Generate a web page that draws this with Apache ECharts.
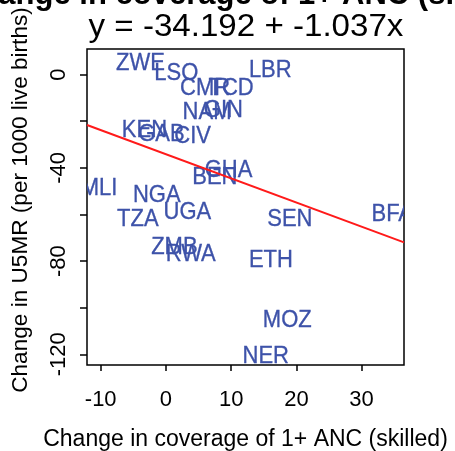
<!DOCTYPE html>
<html>
<head>
<meta charset="utf-8">
<script src="https://cdn.jsdelivr.net/npm/echarts@6/dist/echarts.min.js"></script>
<style>
    html, body { margin: 0; padding: 0; background: #fff; }
    #chart { width: 455px; height: 451px; }
</style>
</head>
<body>
<div id="chart"></div>
<script>
// country codes drawn as the scatter marks
const countries = ['ZWE', 'LSO', 'LBR', 'CMR', 'TCD', 'NAM', 'GIN', 'KEN', 'GAB', 'CIV',
                   'GHA', 'BEN', 'MLI', 'NGA', 'TZA', 'UGA', 'SEN', 'BFA', 'ZMB', 'RWA',
                   'ETH', 'MOZ', 'NER'];
// change in coverage of 1+ ANC (skilled)
const ancChange = [-3.9, 1.6, 16.0, 6.0, 10.0, 6.3, 8.8, -3.3, -0.7, 4.1,
                   9.6, 7.5, -10.25, -1.4, -4.3, 3.3, 19.0, 34.7, 1.3, 3.8,
                   16.1, 18.6, 15.3];
// change in U5MR (per 1000 live births)
const u5mrChange = [6.1, 1.8, 3.1, -4.6, -4.4, -14.7, -14.0, -22.7, -24.5, -25.1,
                    -39.9, -42.8, -47.5, -50.6, -60.7, -57.9, -60.7, -58.6, -72.7, -75.7,
                    -78.4, -104.0, -119.8];

const xTicks = [-10, 0, 10, 20, 30];
const yTicks = [0, -20, -40, -60, -80, -100, -120];
const yTickLabels = [0, -40, -80, -120];

// fitted line, read at the left and right edge of the plot box
const fitX = [-12.1, 36.5];
const fitY = [-21.6, -72.0];

const titleText = 'Change in coverage of 1+ ANC (skilled)';
const equationText = 'y = -34.192 + -1.037x';
const xName = 'Change in coverage of 1+ ANC (skilled)';
const yName = 'Change in U5MR (per 1000 live births)';

const FONT = '"Liberation Sans", Arial, Helvetica, sans-serif';
const LABEL_BLUE = '#3D52A9';

const chart = echarts.init(document.getElementById('chart'));

const labelData = countries.map((c, i) => [ancChange[i], u5mrChange[i]]);
const fitData = fitX.map((x, i) => [x, fitY[i]]);

/**
 * country code centred on its point, clipped to the plot box
 */
function renderCode(params, api) {
    const p = api.coord([api.value(0), api.value(1)]);
    return {
        type: 'text',
        x: p[0],
        y: p[1] + 3,
        scaleY: 1.1,
        style: {
            text: countries[params.dataIndex],
            font: '22px ' + FONT,
            fill: LABEL_BLUE,
            stroke: LABEL_BLUE,
            lineWidth: 0.3,
            align: 'center',
            verticalAlign: 'middle'
        }
    };
}

chart.setOption({
    animation: false,
    grid: {
        left: 87, top: 49, width: 317, height: 316,
        outerBoundsMode: 'none',
        containLabel: false,
        show: true, borderColor: '#000', borderWidth: 1.5,
        backgroundColor: 'transparent'
    },
    xAxis: {
        type: 'value', min: -12.1, max: 36.5,
        axisLine: { show: false, onZero: false },
        splitLine: { show: false },
        axisTick: { show: true, customValues: xTicks, length: 6, lineStyle: { color: '#000', width: 1.5 } },
        axisLabel: { customValues: xTicks, margin: 24, fontSize: 22, color: '#000', fontFamily: FONT },
        name: xName, nameLocation: 'middle', nameGap: 63,
        nameTextStyle: { fontSize: 23, color: '#000', fontFamily: FONT }
    },
    yAxis: {
        type: 'value', min: -124.6, max: 11,
        axisLine: { show: false, onZero: false },
        splitLine: { show: false },
        axisTick: { show: true, customValues: yTicks, length: 7, lineStyle: { color: '#000', width: 1.5 } },
        axisLabel: { customValues: yTickLabels, rotate: 90, margin: 17, fontSize: 22, color: '#000', fontFamily: FONT }
    },
    graphic: [
        {
            type: 'text', x: 246, y: -5,
            style: { text: titleText, font: 'bold 31px ' + FONT, fill: '#000', align: 'center', verticalAlign: 'middle' }
        },
        {
            type: 'text', x: 246, y: 27, scaleX: 1.035,
            style: { text: equationText, font: '32px ' + FONT, fill: '#000', align: 'center', verticalAlign: 'middle' }
        },
        {
            type: 'text', x: 21, y: 200, rotation: Math.PI / 2,
            style: { text: yName, font: '22.6px ' + FONT, fill: '#000', align: 'center', verticalAlign: 'middle' }
        }
    ],
    series: [
        {
            type: 'custom',
            clip: true,
            data: labelData,
            renderItem: renderCode,
            z: 2
        },
        {
            type: 'line',
            data: fitData,
            symbol: 'none',
            clip: true,
            lineStyle: { color: '#FF1A1A', width: 2 },
            z: 3
        }
    ]
});
</script>
</body>
</html>
